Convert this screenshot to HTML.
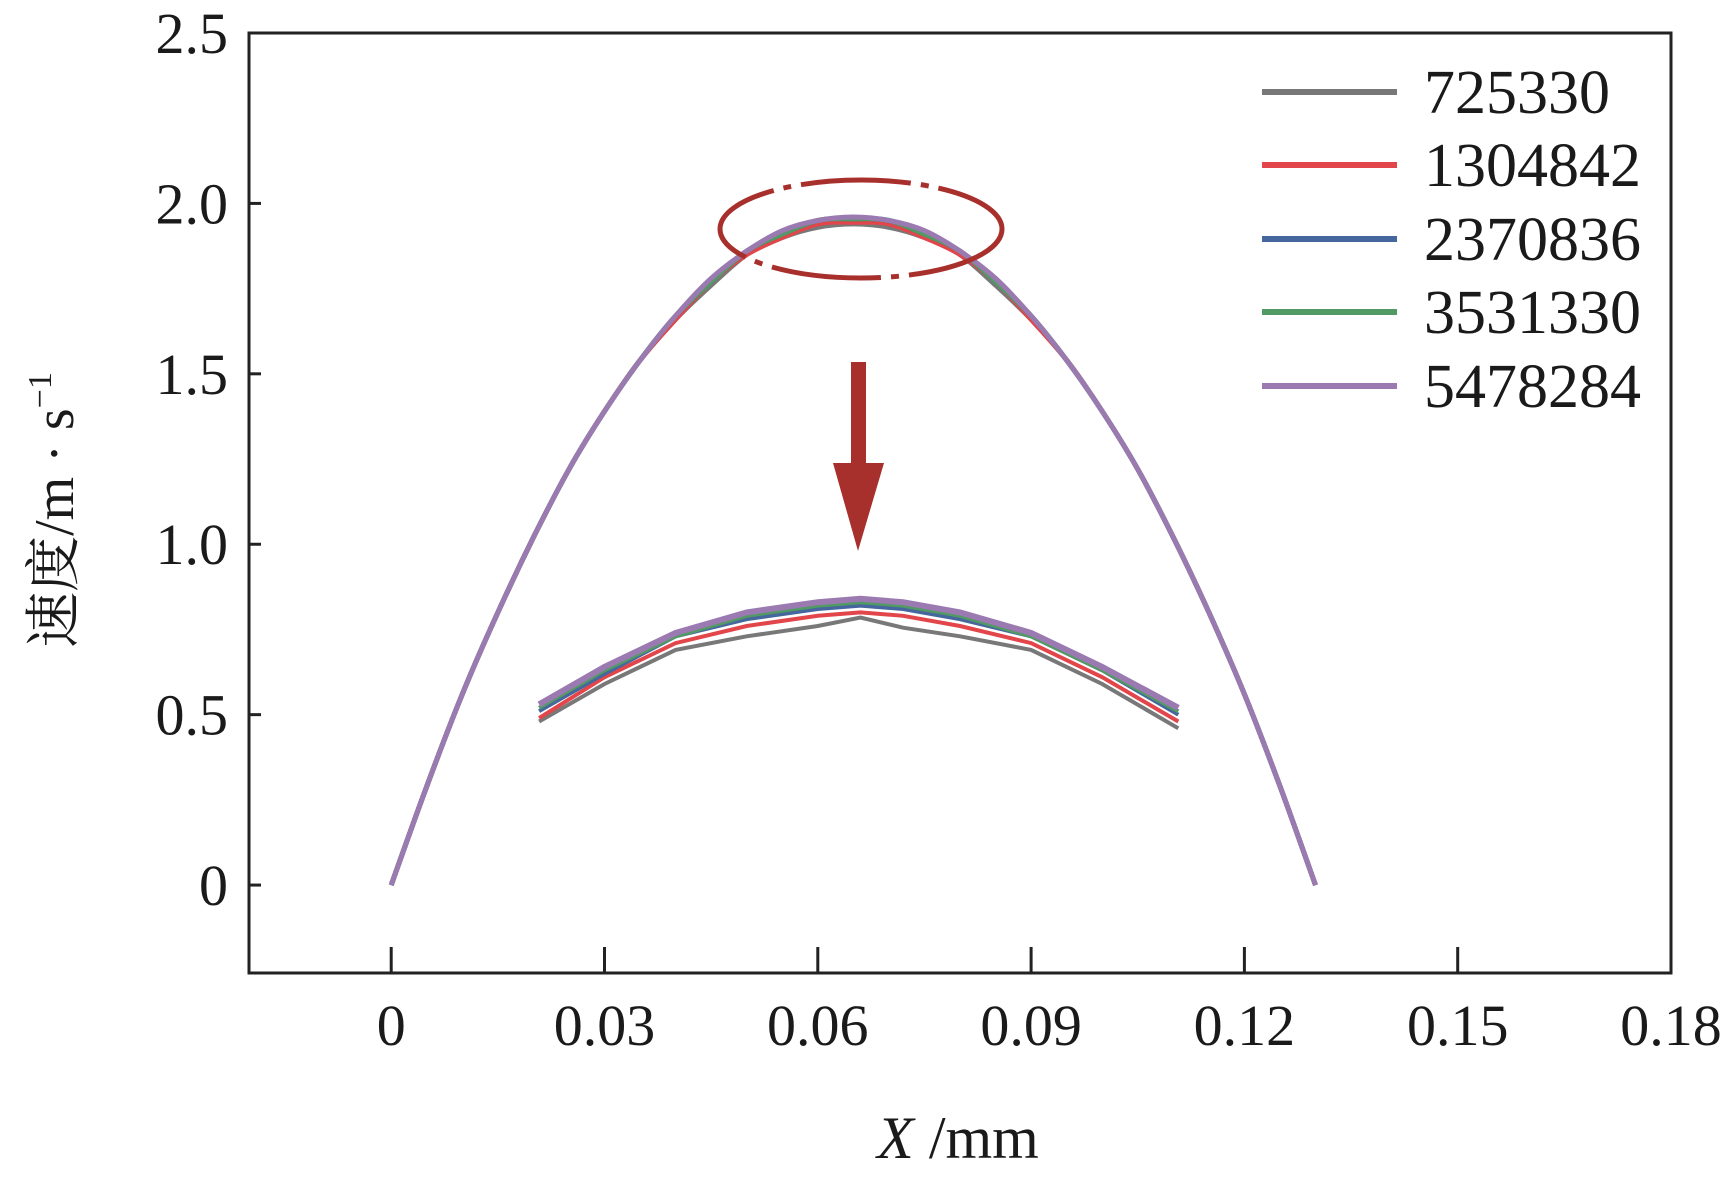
<!DOCTYPE html>
<html><head><meta charset="utf-8"><style>
html,body{margin:0;padding:0;background:#fff;}
svg text{font-family:"Liberation Serif","Noto Serif CJK SC",serif;fill:#1a1a1a;}
</style></head><body>
<svg id="chart" width="1729" height="1178" viewBox="0 0 1729 1178" xmlns="http://www.w3.org/2000/svg">
<rect x="0" y="0" width="1729" height="1178" fill="#fff"/>
<g id="plot"></g>
</svg>
<script>
const xTicks=[0,0.03,0.06,0.09,0.12,0.15,0.18];
const xTickLabels=["0","0.03","0.06","0.09","0.12","0.15","0.18"];
const yTicks=[0,0.5,1.0,1.5,2.0,2.5];
const yTickLabels=["0","0.5","1.0","1.5","2.0","2.5"];
const seriesNames=["725330","1304842","2370836","3531330","5478284"];
const seriesColors=["#787878","#e2454a","#46669e","#529a64","#9a7ab0"];
const mainX=[0,0.005,0.01,0.015,0.02,0.025,0.03,0.035,0.04,0.045,0.05,0.055,0.06,0.065,0.07,0.075,0.08,0.085,0.09,0.095,0.1,0.105,0.11,0.115,0.12,0.125,0.13];
const main725330=[0,0.29,0.56,0.80,1.02,1.22,1.39,1.54,1.66,1.76,1.85,1.90,1.93,1.94,1.93,1.90,1.85,1.76,1.66,1.54,1.39,1.22,1.02,0.80,0.56,0.29,0];
const main1304842=[0,0.29,0.56,0.80,1.02,1.22,1.39,1.54,1.66,1.77,1.85,1.90,1.94,1.945,1.94,1.90,1.85,1.77,1.66,1.54,1.39,1.22,1.02,0.80,0.56,0.29,0];
const main2370836=[0,0.29,0.56,0.80,1.02,1.22,1.39,1.54,1.67,1.77,1.86,1.91,1.95,1.955,1.95,1.91,1.86,1.77,1.67,1.54,1.39,1.22,1.02,0.80,0.56,0.29,0];
const main3531330=[0,0.29,0.56,0.80,1.02,1.22,1.39,1.54,1.67,1.77,1.86,1.91,1.95,1.955,1.95,1.91,1.86,1.77,1.67,1.54,1.39,1.22,1.02,0.80,0.56,0.29,0];
const main5478284=[0,0.29,0.56,0.80,1.02,1.22,1.39,1.54,1.67,1.78,1.86,1.92,1.95,1.96,1.95,1.92,1.86,1.78,1.67,1.54,1.39,1.22,1.02,0.80,0.56,0.29,0];
const insetX=[0.0208,0.03,0.04,0.05,0.06,0.066,0.072,0.08,0.09,0.1,0.1107];
const inset725330=[0.48,0.59,0.69,0.73,0.76,0.785,0.755,0.73,0.69,0.59,0.46];
const inset1304842=[0.49,0.61,0.71,0.76,0.79,0.80,0.79,0.76,0.71,0.61,0.48];
const inset2370836=[0.51,0.62,0.73,0.78,0.81,0.82,0.81,0.78,0.73,0.63,0.50];
const inset3531330=[0.52,0.63,0.73,0.79,0.82,0.83,0.82,0.79,0.73,0.63,0.51];
const inset5478284=[0.53,0.64,0.74,0.80,0.83,0.84,0.83,0.80,0.74,0.64,0.52];
const mainSeries=[main725330,main1304842,main2370836,main3531330,main5478284];
const insetSeries=[inset725330,inset1304842,inset2370836,inset3531330,inset5478284];

const NS="http://www.w3.org/2000/svg";
const L=249,R=1671,T=33,B=973;
const xMin=-0.02,xMax=0.18,yMin=-0.258,yMax=2.5;
function sx(v){return L+(v-xMin)/(xMax-xMin)*(R-L);}
function sy(v){return B-(v-yMin)/(yMax-yMin)*(B-T);}
const g=document.getElementById('plot');
function mk(tag,attrs,parent){const e=document.createElementNS(NS,tag);for(const k in attrs)e.setAttribute(k,attrs[k]);(parent||g).appendChild(e);return e;}
function smooth(P){
  let d='M'+P[0][0].toFixed(1)+','+P[0][1].toFixed(1);
  for(let i=0;i<P.length-1;i++){
    const p0=P[Math.max(0,i-1)],p1=P[i],p2=P[i+1],p3=P[Math.min(P.length-1,i+2)];
    const c1=[p1[0]+(p2[0]-p0[0])/6,p1[1]+(p2[1]-p0[1])/6];
    const c2=[p2[0]-(p3[0]-p1[0])/6,p2[1]-(p3[1]-p1[1])/6];
    d+=' C'+c1[0].toFixed(1)+','+c1[1].toFixed(1)+' '+c2[0].toFixed(1)+','+c2[1].toFixed(1)+' '+p2[0].toFixed(1)+','+p2[1].toFixed(1);
  }
  return d;
}

let fr=mk('rect',{x:L,y:T,width:R-L,height:B-T,fill:'none',stroke:'#222','stroke-width':3});



xTicks.forEach((t,i)=>{
  let tk=mk('line',{x1:sx(t),x2:sx(t),y1:B,y2:B-26,stroke:'#222','stroke-width':3});
  
  
  let tx=mk('text',{x:sx(t),y:1045,'text-anchor':'middle','font-size':58});
  tx.textContent=xTickLabels[i];
  
  
});
yTicks.forEach((t,i)=>{
  let tk=mk('line',{x1:L,x2:L+12,y1:sy(t),y2:sy(t),stroke:'#222','stroke-width':3});
  
  
  let tx=mk('text',{x:228,y:sy(t)+20,'text-anchor':'end','font-size':58});
  tx.textContent=yTickLabels[i];
  
  
});

let xt=mk('text',{x:958,y:1158,'text-anchor':'middle','font-size':60});
xt.innerHTML='<tspan font-style="italic">X</tspan> /mm';


let yt=mk('text',{x:0,y:0,'text-anchor':'middle','font-size':56,transform:'translate(73,510) rotate(-90)'});
yt.innerHTML='速度/m · s<tspan dy="-22" font-size="34">−1</tspan>';



mainSeries.forEach((s,k)=>{
  const P=mainX.map((x,i)=>[sx(x),sy(s[i])]);
  let p=mk('path',{d:smooth(P),fill:'none',stroke:seriesColors[k],'stroke-width':5,'stroke-linejoin':'round'});
  
  
});
insetSeries.forEach((s,k)=>{
  const pts=insetX.map((x,i)=>sx(x).toFixed(1)+','+sy(s[i]).toFixed(1)).join(' ');
  let p=mk('polyline',{points:pts,fill:'none',stroke:seriesColors[k],'stroke-width':k==4?6:4});
  
  
});

let el=mk('ellipse',{cx:861,cy:229,rx:141,ry:49,fill:'none',stroke:'#a8302c','stroke-width':5,'stroke-dasharray':'110 10 8 10'});


let sh=mk('rect',{x:851,y:362,width:15,height:110,fill:'#a8302c'});


let ah=mk('polygon',{points:'833,463 884,463 858,551',fill:'#a8302c'});



const legY=[92,165,239,312,386];
seriesNames.forEach((n,k)=>{
  let ln=mk('line',{x1:1262,x2:1397,y1:legY[k],y2:legY[k],stroke:seriesColors[k],'stroke-width':6});
  
  
  let tx=mk('text',{x:1424,y:legY[k]+21,'font-size':62});
  tx.textContent=n;
  
  
});
</script>
</body></html>
